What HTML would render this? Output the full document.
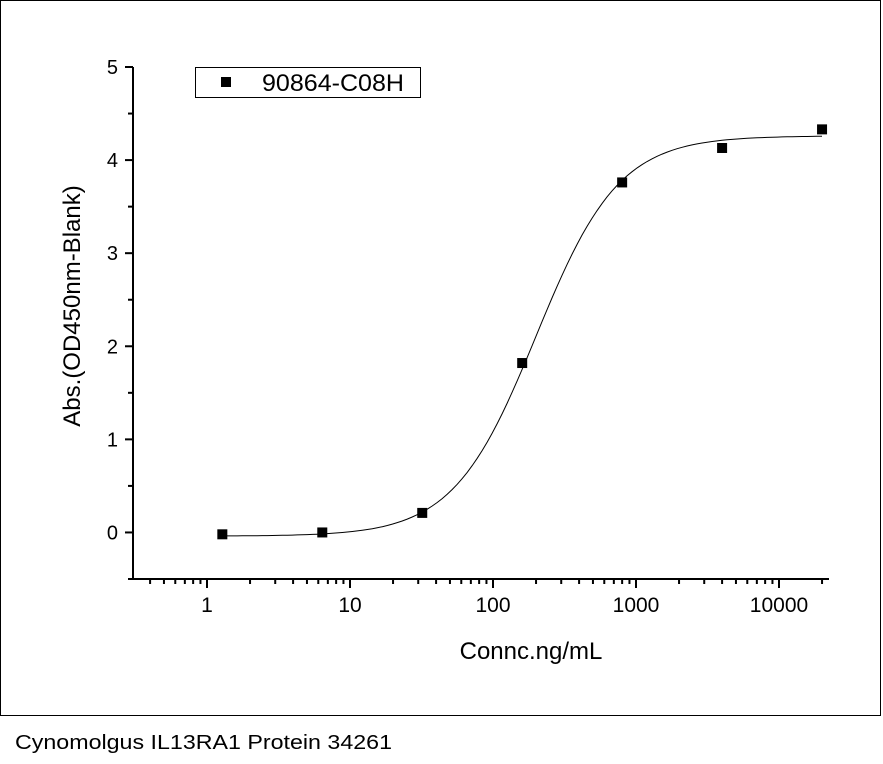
<!DOCTYPE html>
<html><head><meta charset="utf-8"><style>
html,body{margin:0;padding:0;background:#fff;width:883px;height:764px;overflow:hidden}
svg{display:block;font-family:"Liberation Sans",sans-serif}
</style></head><body>
<svg id="chart" width="883" height="764" viewBox="0 0 883 764">
<rect x="0.5" y="0.5" width="880" height="715" fill="none" stroke="#000" stroke-width="1"/>
<g id="plot"></g>
<text x="15" y="749" font-size="20" textLength="377" lengthAdjust="spacingAndGlyphs">Cynomolgus IL13RA1 Protein 34261</text>
</svg>
<script>
const concentrations=[1.28,6.4,32,160,800,4000,20000];
const absorbance=[-0.02,0.00,0.21,1.82,3.76,4.13,4.33];
const fitParams=[-0.04,4.26,200,1.5]; // bottom, top, EC50, hill
const xTickValues=[1,10,100,1000,10000];
const xTickLabels=["1","10","100","1000","10000"];
const yTickValues=[0,1,2,3,4,5];
const yTickLabels=["0","1","2","3","4","5"];
const seriesName="90864-C08H";

const NS="http://www.w3.org/2000/svg";
const plotG=document.getElementById('plot');
const X0=133,X1=829,Y0=67,Y1=579;
const xLogMin=Math.log10(1)-(207-133)/143, xLogMax=Math.log10(1)+(829-207)/143;
const yMin=-0.5,yMax=5;
function xs(v){return X0+(Math.log10(v)-xLogMin)/(xLogMax-xLogMin)*(X1-X0);}
function ys(v){return Y1-(v-yMin)/(yMax-yMin)*(Y1-Y0);}
function mk(t,a){const e=document.createElementNS(NS,t);for(const k in a)e.setAttribute(k,a[k]);plotG.appendChild(e);return e;}

let ax;
ax=mk('line',{x1:X0,y1:Y0,x2:X0,y2:Y1+1,stroke:'#000','stroke-width':2});


ax=mk('line',{x1:X0-1,y1:Y1,x2:X1,y2:Y1,stroke:'#000','stroke-width':2});



yTickValues.forEach((v,i)=>{
  const y=ys(v);
  let t=mk('line',{x1:X0-8,y1:y,x2:X0,y2:y,stroke:'#000','stroke-width':2});
  
  
  let l=mk('text',{x:X0-15,y:y+7,'font-size':20,'text-anchor':'end'});
  l.textContent=yTickLabels[i];
  
  
  if(v<yMax){const ym=ys(v+0.5);
    let m=mk('line',{x1:X0-5,y1:ym,x2:X0,y2:ym,stroke:'#000','stroke-width':2});
    
    }
});
let m0=mk('line',{x1:X0-5,y1:ys(-0.5),x2:X0,y2:ys(-0.5),stroke:'#000','stroke-width':2});



for(let d=-1;d<=4;d++){
  for(let k=1;k<10;k++){
    const v=k*Math.pow(10,d);const x=xs(v);
    if(x<X0-0.5||x>X1+0.5)continue;
    let t=mk('line',{x1:x,y1:Y1,x2:x,y2:Y1+(k===1?9:5),stroke:'#000','stroke-width':2});
    
    
  }
}
xTickValues.forEach((v,i)=>{
  let l=mk('text',{x:xs(v),y:Y1+33,'font-size':21,'text-anchor':'middle'});
  l.textContent=xTickLabels[i];
  
  
});

const fitBottom=fitParams[0],fitTop=fitParams[1],fitEC50=fitParams[2],fitHill=fitParams[3];
let pts=[];
const lmin=Math.log10(concentrations[0]),lmax=Math.log10(concentrations[concentrations.length-1]);
for(let i=0;i<=120;i++){const lv=lmin+(lmax-lmin)*i/120;const v=Math.pow(10,lv);
  const yv=fitBottom+(fitTop-fitBottom)/(1+Math.pow(fitEC50/v,fitHill));pts.push(xs(v).toFixed(1)+','+ys(yv).toFixed(1));}
let curve=mk('polyline',{points:pts.join(' '),fill:'none',stroke:'#000','stroke-width':1});



concentrations.forEach((v,i)=>{
  let p=mk('rect',{x:xs(v)-5,y:ys(absorbance[i])-5,width:10,height:10,fill:'#000'});
  
  
});

let lb=mk('rect',{x:195.5,y:67.5,width:225,height:30,fill:'#fff',stroke:'#000','stroke-width':1});


let lm=mk('rect',{x:221,y:77,width:10,height:10,fill:'#000'});


let lt=mk('text',{x:262,y:91,'font-size':24,textLength:142,lengthAdjust:'spacingAndGlyphs'});
lt.textContent=seriesName;



let xt=mk('text',{x:531,y:659,'font-size':24,'text-anchor':'middle'});
xt.textContent='Connc.ng/mL';


let yt=mk('text',{x:0,y:0,'font-size':24,'text-anchor':'middle',transform:'translate(80,306) rotate(-90)'});
yt.textContent='Abs.(OD450nm-Blank)';


</script>
</body></html>
